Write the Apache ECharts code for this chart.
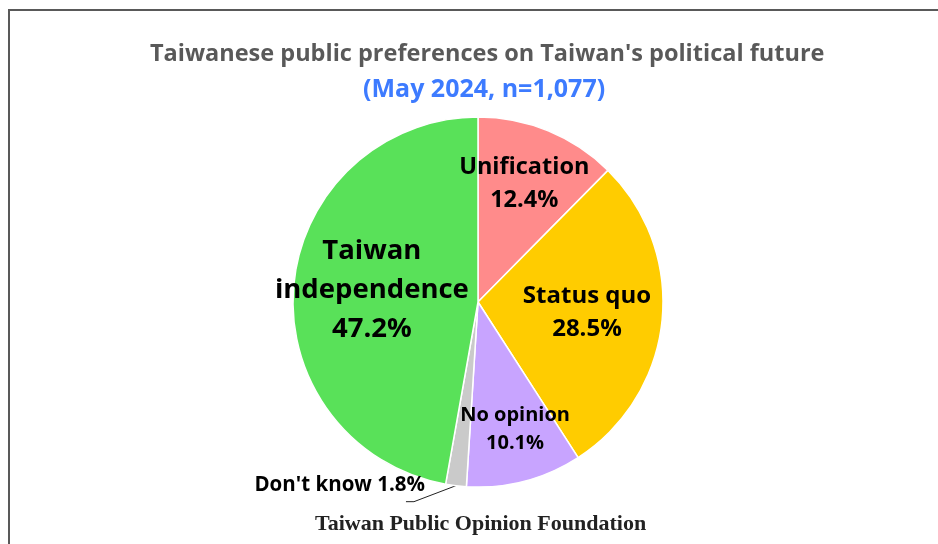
<!DOCTYPE html>
<html><head><meta charset="utf-8">
<script src="https://cdn.jsdelivr.net/npm/echarts@6/dist/echarts.min.js"></script>
<style>html,body{margin:0;padding:0;background:#fff}#c{width:938px;height:544px}</style>
</head><body><div id="c"></div>
<script>
const categories = ["Unification", "Status quo", "No opinion", "Don't know", "Taiwan independence"];
const labelTexts = ["Unification", "Status quo", "No opinion", "Don't know", "Taiwan\nindependence"];
const values = [12.4, 28.5, 10.1, 1.8, 47.2];
const colors = ["#FF8B8B", "#FFCC00", "#C8A4FF", "#CACACA", "#59E159"];
const titleText = "Taiwanese public preferences on Taiwan's political future";
const subtitleText = "(May 2024, n=1,077)";
const sourceText = "Taiwan Public Opinion Foundation";

const labelStyles = [
  {fontSize: 23.5, lineHeight: 33, offset: [10, -30]},
  {fontSize: 24, lineHeight: 33, offset: [14, 1]},
  {fontSize: 20, lineHeight: 28, offset: [13, 35]},
  {fontSize: 20.5, lineHeight: 28},
  {fontSize: 27.5, lineHeight: 39, offset: [-11, -3]}
];

const chart = echarts.init(document.getElementById('c'));
const data = values.map((v, i) => {
  const d = {
    name: categories[i], value: v,
    itemStyle: {color: colors[i]},
    label: {
      formatter: labelTexts[i] + (i === 3 ? ' ' : '\n') + v.toFixed(1) + '%',
      fontSize: labelStyles[i].fontSize,
      lineHeight: labelStyles[i].lineHeight
    }
  };
  if (labelStyles[i].offset) { d.label.offset = labelStyles[i].offset; d.label.position = 'inside'; }
  else {
    d.label.position = 'outside';
    d.labelLine = {show: true, length: 18, length2: 10, lineStyle: {color: '#222', width: 1}};
  }
  return d;
});

chart.setOption({
  animation: false,
  graphic: [{type: 'rect', shape: {x: 9, y: 10, width: 1000, height: 600}, style: {fill: 'none', stroke: '#595959', lineWidth: 2}}],
  title: [
    {text: titleText, left: 145, top: 37, textStyle: {fontFamily: 'Open Sans', fontWeight: 'bold', fontSize: 23.5, color: '#595959'}},
    {text: subtitleText, left: 358, top: 72, textStyle: {fontFamily: 'Open Sans', fontWeight: 'bold', fontSize: 25, color: '#3D7BFF'}},
    {text: sourceText, left: 310, top: 508, textStyle: {fontFamily: 'Liberation Serif', fontWeight: 'bold', fontSize: 22, color: '#222'}}
  ],
  series: [{
    type: 'pie',
    center: [478, 302],
    radius: [0, 185],
    startAngle: 90,
    clockwise: true,
    avoidLabelOverlap: false,
    itemStyle: {borderColor: '#fff', borderWidth: 1.5},
    label: {show: true, color: '#000', fontFamily: 'Open Sans', fontWeight: 'bold'},
    labelLayout: function (p) {
      if (p.dataIndex === 3 && p.labelLinePoints) {
        const p0 = p.labelLinePoints[0];
        return {
          x: p0[0] - 31, y: p0[1] - 1, align: 'right', verticalAlign: 'middle',
          labelLinePoints: [[p0[0], p0[1]], [p0[0] - 42, p0[1] + 16], [p0[0] - 50, p0[1] + 16]]
        };
      }
      return {};
    },
    data: data
  }]
});
</script></body></html>
